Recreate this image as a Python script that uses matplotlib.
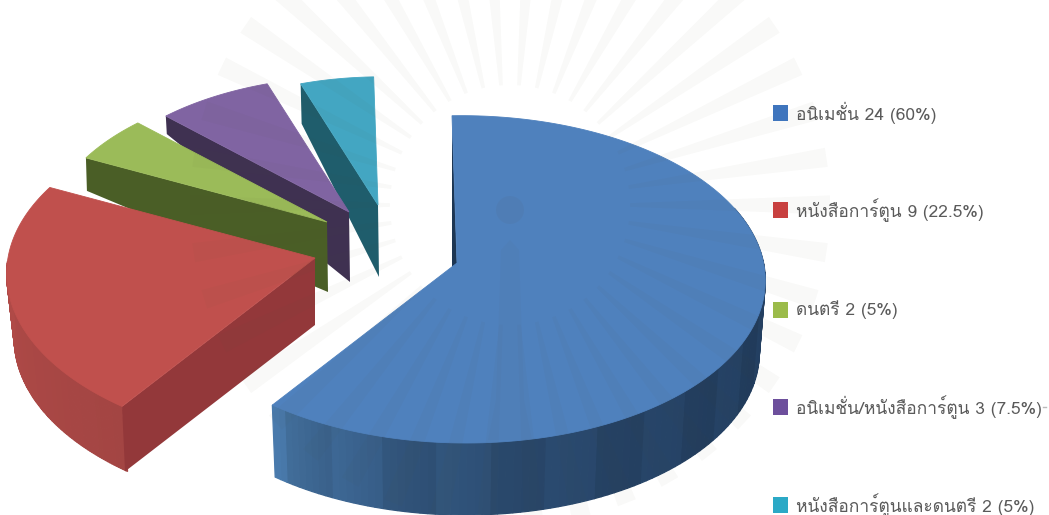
import numpy as np
import matplotlib
matplotlib.use("Agg")
import matplotlib.pyplot as plt
from matplotlib.patches import Rectangle, Polygon, Circle

plt.rcParams['font.family'] = ['Loma', 'DejaVu Sans']

# ---------------------------
# data
# ---------------------------
categories = ["อนิเมชั่น", "หนังสือการ์ตูน", "ดนตรี", "อนิเมชั่น/หนังสือการ์ตูน", "หนังสือการ์ตูนและดนตรี"]
counts = [24, 9, 2, 3, 2]
percents = ["60", "22.5", "5", "7.5", "5"]

# face, dark wall colours per slice
face_colors = ["#4f81bd", "#c0504d", "#9bbb59", "#8064a2", "#43a6c2"]
rim_near = ["#1f3857", "#a34543", "#4a5e26", "#3f3151", "#1f5d6c"]
rim_far = ["#44719f", "#b04a47", "#4a5e26", "#3f3151", "#1f5d6c"]
wall_colors = ["#1d3653", "#93383a", "#4a5e26", "#3f3151", "#1f5d6c"]
legend_colors = ["#3f75bd", "#c8403f", "#9bbb4a", "#6d4f9c", "#2ba9c6"]

# slice placement (pixels): apex, size, wall height at apex and at rim
apex_x = [457, 315, 327, 349, 378]
apex_y = [263, 258, 222, 212, 205]
scale = [1.0, 1.045, 0.95, 0.92, 0.87]
depth_apex = [70, 67, 70, 70, 72]
depth_rim = [72, 65, 33, 18, 40]

legend_y = [113, 210, 310, 407, 505]


# ---------------------------
# perspective projection of the unit disc
# ---------------------------
def project(theta, k=1.0):
    u = np.sin(theta)
    v = np.cos(theta)
    w = 1 + 0.10 * v - 0.02 * u
    dx = (300 * u - 5.5 * v) / w
    dy = (-2 * u - 162 * v) / w
    return k * dx, k * dy


def mix(c1, c2, t):
    a = np.array(matplotlib.colors.to_rgb(c1))
    b = np.array(matplotlib.colors.to_rgb(c2))
    return a + (b - a) * t


fig = plt.figure(figsize=(10.49, 5.15), dpi=100)
ax = fig.add_axes([0, 0, 1, 1])
ax.set_xlim(0, 1049)
ax.set_ylim(515, 0)
ax.axis("off")

# slice angles, clockwise from the top
edges = np.cumsum([0] + counts) / sum(counts) * 2 * np.pi
vanish_x = 430.0

# back slices first so that the front ones cover them
for i in [4, 3, 2, 1, 0]:
    t = np.linspace(edges[i], edges[i + 1], 160)
    dx, dy = project(t, scale[i])
    x = apex_x[i] + dx
    y = apex_y[i] + dy
    z = 10 + (4 - i)

    # rim wall, only on the slices that face the viewer
    if i < 2:
        seen = t < np.radians(270) if i == 1 else t > np.radians(70)
        xs, ys = x[seen], y[seen]
        xb = xs + (vanish_x - xs) * 0.018
        yb = ys + depth_rim[i]
        for j in range(len(xs) - 1):
            f = j / (len(xs) - 2)
            # the blue wall only brightens close to its left end
            col = mix(rim_near[i], rim_far[i], f ** 5 * 0.8 + f * 0.2 if i == 0 else f)
            # small ribs along the rim
            if i == 0:
                col = np.clip(col * (1.0 + 0.08 * ((j // 7) % 2)), 0, 1)
            ax.add_patch(Polygon([(xs[j], ys[j]), (xs[j + 1], ys[j + 1]),
                                  (xb[j + 1], yb[j + 1]), (xb[j], yb[j])],
                                 fc=col, ec=col, lw=0.9, zorder=z))

    # radial wall below the cut edge
    if i == 0:
        # narrow strip along the start edge, the rest is behind the top face
        ax.add_patch(Polygon([(x[0], y[0]), (apex_x[0], apex_y[0]),
                              (apex_x[0] - 5, apex_y[0] + 8)],
                             fc=wall_colors[0], ec="none", zorder=z))
    elif i == 1:
        xe, ye = x[0], y[0]
        ax.add_patch(Polygon([(apex_x[1], apex_y[1]), (xe, ye),
                              (xe + 3, ye + depth_rim[1]),
                              (apex_x[1], apex_y[1] + depth_apex[1])],
                             fc=wall_colors[1], ec="none", zorder=z))
    else:
        ax.add_patch(Polygon([(apex_x[i], apex_y[i]), (x[0], y[0]),
                              (x[0] + 1, y[0] + depth_rim[i]),
                              (apex_x[i] + 1, apex_y[i] + depth_apex[i])],
                             fc=wall_colors[i], ec="none", zorder=z))

    # top face
    poly = np.column_stack([np.r_[apex_x[i], x], np.r_[apex_y[i], y]])
    ax.add_patch(Polygon(poly, fc=face_colors[i], ec=face_colors[i], lw=0.6, zorder=z + 0.5))

# faint emblem with rays across the page
cx, cy = 510, 205
ray_angles = np.linspace(0, 2 * np.pi, 84, endpoint=False)
for a in ray_angles[::2]:
    r0, r1 = 120, 320
    da = 0.03
    pts = [(cx + r0 * np.cos(a - da * 0.5), cy + r0 * np.sin(a - da * 0.5)),
           (cx + r1 * np.cos(a - da), cy + r1 * np.sin(a - da)),
           (cx + r1 * np.cos(a + da), cy + r1 * np.sin(a + da)),
           (cx + r0 * np.cos(a + da * 0.5), cy + r0 * np.sin(a + da * 0.5))]
    ax.add_patch(Polygon(pts, fc="#55553a", ec="none", alpha=0.035, zorder=30))
ax.add_patch(Circle((cx, cy + 5), 14, fc="#555555", ec="none", alpha=0.07, zorder=30))
ax.add_patch(Polygon([(501, 250), (510, 240), (519, 250), (524, 400), (532, 440),
                      (488, 440), (496, 400)], fc="#555555", ec="none", alpha=0.04, zorder=30))

# legend
for name, n, pct, col, ly in zip(categories, counts, percents, legend_colors, legend_y):
    ax.add_patch(Rectangle((773, ly - 8), 15, 16, fc=col, ec="none", zorder=40))
    ax.text(796, ly, "{} {} ({}%)".format(name, n, pct), fontsize=12.5, color="#5a5a5a",
            va="center", ha="left", zorder=40)
ax.plot([1043, 1046], [407, 407], color="#bbbbbb", lw=1, zorder=40)

fig.savefig("out.png", dpi=100)
